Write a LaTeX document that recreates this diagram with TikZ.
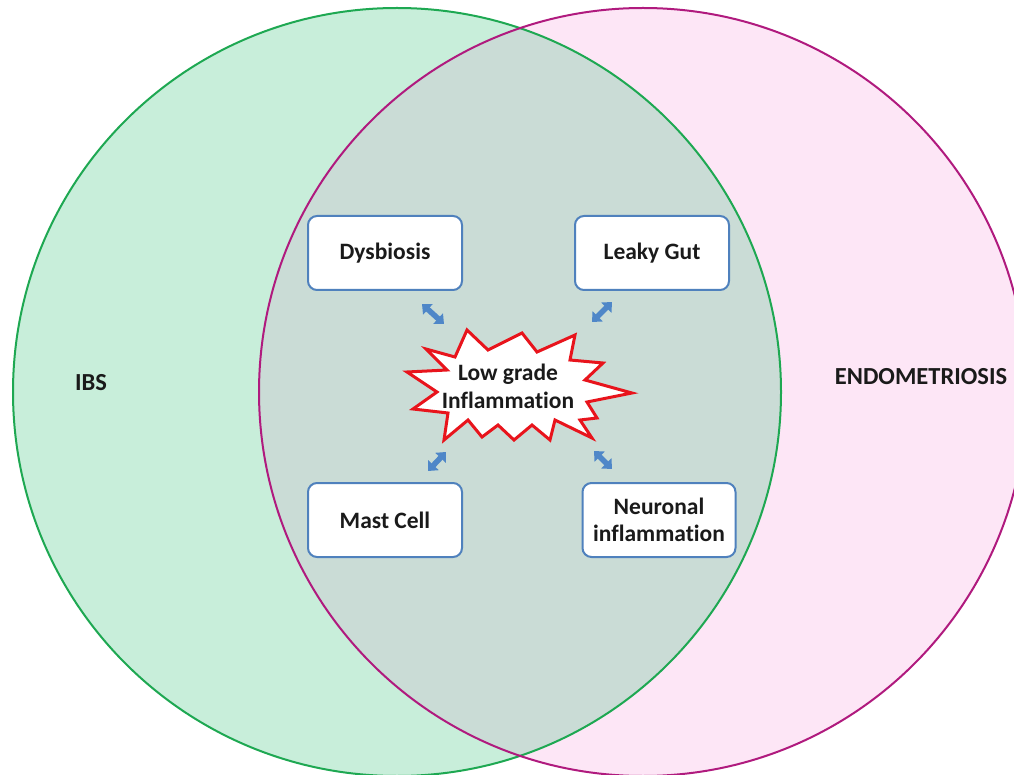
\documentclass[tikz,border=0pt]{standalone}
\usepackage{fontspec}
\setmainfont{Carlito}[Ligatures=NoCommon]
\usetikzlibrary{arrows.meta}
\definecolor{greenfill}{HTML}{C8EEDA}
\definecolor{greenline}{HTML}{1EA852}
\definecolor{pinkfill}{HTML}{FDE6F6}
\definecolor{pinkline}{HTML}{B01A7E}
\definecolor{overlapfill}{HTML}{CADCD6}
\definecolor{boxline}{HTML}{4F81BD}
\definecolor{arrowblue}{HTML}{4F87C8}
\definecolor{burstred}{HTML}{E8141C}
\definecolor{txt}{HTML}{1A1A1A}
\begin{document}
\begin{tikzpicture}[x=1pt,y=-1pt,
  box/.style={draw=boxline, line width=2pt, fill=white, rounded corners=9pt,
    minimum width=154pt, minimum height=74pt, align=center, text=txt,
    font=\fontsize{23.5}{27}\selectfont\bfseries},
  setlabel/.style={font=\fontsize{24.5}{28}\selectfont\bfseries, text=txt},
  dbl/.style={draw=arrowblue, line width=5.5pt,
    {Triangle[width=14pt,length=8pt]}-{Triangle[width=14pt,length=8pt]}}]
\useasboundingbox (0,0) rectangle (1014,775);
\clip (0,0) rectangle (1014,775);
% circles
\fill[greenfill] (397,392) circle[radius=384];
\fill[pinkfill] (643,392) circle[radius=384];
\begin{scope}
  \clip (397,392) circle[radius=384];
  \fill[overlapfill] (643,392) circle[radius=384];
\end{scope}
\draw[greenline, line width=2pt] (397,392) circle[radius=384];
\draw[pinkline, line width=2pt] (643,392) circle[radius=384];
% set labels
\node[setlabel] (ibs) at (91,383) {IBS};
\node[setlabel] (endo) at (921,377) {ENDOMETRIOSIS};
% boxes
\node[box] (dys) at (385,253) {Dysbiosis};
\node[box] (leaky) at (652,253) {Leaky Gut};
\node[box] (mast) at (385,520) {Mast Cell};
\node[box, minimum width=153pt] (neuro) at (659,520) {Neuronal\\inflammation};
% starburst
\draw[burstred, line width=3pt, fill=white, line join=miter]
  (407,372) -- (447,370) -- (426,349) -- (455,357) -- (467,330) -- (488,350)
  -- (522,333) -- (537,352) -- (575,335) -- (570,360) -- (603,363) -- (585,380)
  -- (632,393) -- (587,402) -- (597,418) -- (580,420) -- (592,438) -- (555,420)
  -- (550,440) -- (532,425) -- (514,440) -- (498,425) -- (482,437) -- (468,420)
  -- (444,440) -- (448,413) -- (413,409) -- (437,392) -- cycle;
\node[align=center, text=txt, font=\fontsize{23.5}{28}\selectfont\bfseries] (burst) at (508,386) {Low grade\\Inflammation};
% arrows
\coordinate (a1s) at (422,304); \coordinate (a1e) at (444,324);
\coordinate (a2s) at (612,302); \coordinate (a2e) at (592,322);
\coordinate (a3s) at (446,452); \coordinate (a3e) at (428,471);
\coordinate (a4s) at (594,451); \coordinate (a4e) at (612,469);
\draw[dbl] (a1s) -- (a1e);
\draw[dbl] (a2s) -- (a2e);
\draw[dbl] (a3s) -- (a3e);
\draw[dbl] (a4s) -- (a4e);
\end{tikzpicture}
\end{document}
